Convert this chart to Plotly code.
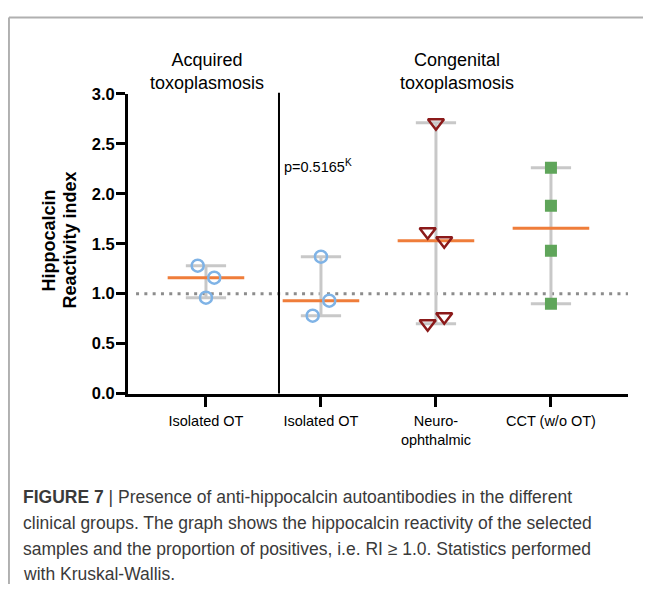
import plotly.graph_objects as go
import numpy as np

# ---- data ----
categories = ["Isolated OT", "Isolated OT", "Neuro-<br>ophthalmic", "CCT (w/o OT)"]
acquired_ot = [1.28, 1.16, 0.96]
congenital_ot = [1.37, 0.93, 0.78]
neuro = [2.71, 1.62, 1.53, 0.77, 0.70]
cct = [2.26, 1.88, 1.43, 0.90]
groups = [acquired_ot, congenital_ot, neuro, cct]
jitter = [[-0.072, 0.072, 0.0], [0.0, 0.072, -0.072], [0.0, -0.072, 0.072, 0.072, -0.072], [0, 0, 0, 0]]
y_ticks = [0, 0.5, 1.0, 1.5, 2.0, 2.5, 3.0]
threshold = 1.0
p_text = "p=0.5165<sup>K</sup>"
caption_lines = [
    "<b>FIGURE 7</b> | Presence of anti-hippocalcin autoantibodies in the different",
    "clinical groups. The graph shows the hippocalcin reactivity of the selected",
    "samples and the proportion of positives, i.e. RI ≥ 1.0. Statistics performed",
    "with Kruskal-Wallis.",
]

# figure placement on the page (page offset / scaling compensated)
OFFX, OFFY, SY = 8, 16.4, 0.97
W, H = 651 - 2 * OFFX, 585
x_left, x_right = 128, 628
y_top, y_bot = 93.3, 393.3
xr = [-0.678, 3.67]

def px(xp):
    return (xp - OFFX) / W

def py(yp):
    return 1 - ((yp - OFFY) / SY) / H

fig = go.Figure()

gray = "#c8c8c8"
orange = "#ef7d3a"
styles = [
    dict(symbol="circle-open", color="#7fb3e6", size=12, lw=2.5),
    dict(symbol="circle-open", color="#7fb3e6", size=12, lw=2.5),
    dict(symbol="triangle-down-open", color="#8b1a1a", size=14, lw=2.5),
    dict(symbol="square", color="#5fa55a", size=12, lw=0),
]

fig.add_trace(go.Scatter(x=[xr[0] + 0.07, xr[1]], y=[threshold, threshold], mode="lines",
                         line=dict(color="#8c8c8c", width=3, dash="3px,5.3px"), hoverinfo="skip"))

for i, vals in enumerate(groups):
    lo, hi = min(vals), max(vals)
    med = float(np.median(vals))
    fig.add_trace(go.Scatter(x=[i, i], y=[lo, hi], mode="lines", line=dict(color=gray, width=3), hoverinfo="skip"))
    for v in (lo, hi):
        fig.add_trace(go.Scatter(x=[i - 0.175, i + 0.175], y=[v, v], mode="lines",
                                 line=dict(color=gray, width=3), hoverinfo="skip"))
    fig.add_trace(go.Scatter(x=[i - 0.333, i + 0.333], y=[med, med], mode="lines",
                             line=dict(color=orange, width=3), hoverinfo="skip"))
    st = styles[i]
    fig.add_trace(go.Scatter(x=[i + j for j in jitter[i]], y=vals, mode="markers",
                             marker=dict(symbol=st["symbol"], size=st["size"], color=st["color"],
                                         line=dict(color=st["color"], width=st["lw"])),
                             hoverinfo="skip"))

font = "Liberation Sans, Arial, sans-serif"

fig.update_layout(
    width=W, height=H,
    margin=dict(l=0, r=0, t=0, b=0),
    paper_bgcolor="white", plot_bgcolor="white",
    showlegend=False,
    xaxis=dict(domain=[px(x_left), px(x_right)], range=xr, tickvals=list(range(len(categories))),
               ticktext=categories, showgrid=False, zeroline=False, showline=True, linecolor="black",
               linewidth=3, ticks="outside", ticklen=10, tickwidth=3, tickcolor="black",
               ticklabelstandoff=2,
               tickfont=dict(family=font, size=14.5, color="black")),
    yaxis=dict(domain=[py(y_bot), py(y_top)], range=[0, 3], tickvals=y_ticks,
               tickformat=".1f", showgrid=False, zeroline=False, showline=True, linecolor="black",
               linewidth=3, ticks="outside", ticklen=9, tickwidth=3, tickcolor="black",
               ticklabelstandoff=-2,
               tickfont=dict(family=font, size=16.5, color="black", weight="bold")),
)

def note(x, y, text, size, **kw):
    fig.add_annotation(xref="paper", yref="paper", x=px(x), y=py(y), text=text, showarrow=False,
                       xanchor=kw.pop("xanchor", "center"), yanchor=kw.pop("yanchor", "middle"),
                       font=dict(family=font, size=size, color=kw.pop("color", "black")), **kw)

# y-axis title (two rotated lines)
note(49, 240, "<b>Hippocalcin</b>", 18, textangle=-90)
note(70, 240, "<b>Reactivity index</b>", 18, textangle=-90)

# divider between acquired and congenital
fig.add_shape(type="line", xref="x", yref="paper", x0=0.635, x1=0.635, y0=py(y_bot), y1=py(y_top - 1),
              line=dict(color="black", width=2))

# frame lines of the figure panel
fig.add_shape(type="line", xref="paper", yref="paper", x0=0.0015, x1=1.0, y0=0.999, y1=0.999,
              line=dict(color="#b0b0b0", width=2))
fig.add_shape(type="line", xref="paper", yref="paper", x0=0.0015, x1=0.0015, y0=0.999, y1=0,
              line=dict(color="#b0b0b0", width=2))

# group headers
note(207, 71, "Acquired<br>toxoplasmosis", 18)
note(457, 71, "Congenital<br>toxoplasmosis", 18)
note(282, 166, p_text, 14.5, xanchor="left")

# caption
for k, line in enumerate(caption_lines):
    note(21, 497 + 25.7 * k, line, 17.5, xanchor="left", align="left", color="#3a3a3a")

fig.write_html("out.html")
